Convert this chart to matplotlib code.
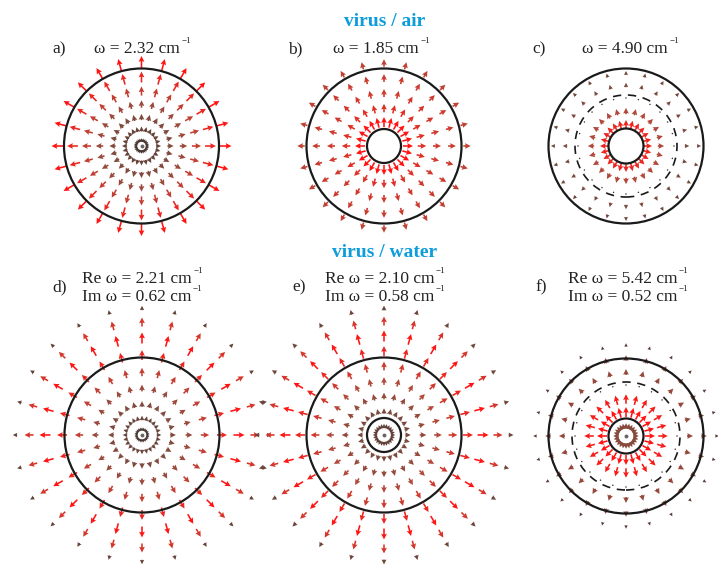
import numpy as np
import matplotlib.pyplot as plt
from matplotlib.patches import Circle
from matplotlib.colors import LinearSegmentedColormap, Normalize

plt.rcParams['font.family'] = ['Liberation Serif', 'DejaVu Serif']

W, H = 718, 565
fig = plt.figure(figsize=(W / 100, H / 100), dpi=100)

# 24 arrow directions, radial grid (radius units: outer circle = 77.5)
angles = np.deg2rad(np.arange(0, 360, 15))
R_OUT = 77.5

# ring radii and field magnitude (0..1) per panel
rings_a = [6, 17, 29, 42, 55, 69, 84]
mags_a = [0.3, 0.42, 0.52, 0.62, 0.76, 0.9, 1.0]
rings_b = [24, 38, 53, 68, 83]
mags_b = [1.0, 0.85, 0.8, 0.78, 0.75]
rings_c = [22, 35, 48, 61, 73]
mags_c = [0.9, 0.7, 0.12, 0.5, 0.45]
rings_d = [6, 17, 31, 47, 63, 80, 97, 113, 127]
mags_d = [0.3, 0.42, 0.52, 0.62, 0.76, 0.9, 1.0, 0.82, 0.4]
rings_e = [9, 24, 39, 54, 69, 84, 99, 114, 127]
mags_e = [0.4, 0.5, 0.6, 0.7, 0.8, 0.9, 1.0, 0.82, 0.45]
rings_f = [10, 24, 37, 51, 64, 78, 91]
mags_f = [0.55, 1.0, 0.95, 0.12, 0.6, 0.55, 0.35]

inner_r = {'b': 17, 'c': 17.5, 'e': 17, 'f': 17.5}
node_r = {'c': 51, 'f': 54}

labels = ['a)', 'b)', 'c)', 'd)', 'e)', 'f)']
omega_lines = [
    ['ω = 2.32 cm'],
    ['ω = 1.85 cm'],
    ['ω = 4.90 cm'],
    ['Re ω = 2.21 cm', 'Im ω = 0.62 cm'],
    ['Re ω = 2.10 cm', 'Im ω = 0.58 cm'],
    ['Re ω = 5.42 cm', 'Im ω = 0.52 cm'],
]

cmap = LinearSegmentedColormap.from_list(
    'field', [(0, '#2a2a2a'), (0.3, '#4a3832'), (0.5, '#7a4a3e'),
              (0.7, '#b0483a'), (0.85, '#e03026'), (1.0, '#ff1414')])


def draw_panel(key, cx, cy, rings, mags, lmax, dot=True):
    half = 150
    ax = fig.add_axes([(cx - half) / W, 1 - (cy + half) / H, 2 * half / W, 2 * half / H])
    ax.set_xlim(-half, half)
    ax.set_ylim(-half, half)
    ax.set_aspect('equal')
    ax.set_facecolor('none')
    ax.axis('off')

    rr, tt = np.meshgrid(rings, angles)
    mm, _ = np.meshgrid(mags, angles)
    X, Y = rr * np.cos(tt), rr * np.sin(tt)
    U, V = mm * lmax * np.cos(tt), mm * lmax * np.sin(tt)
    ax.quiver(X, Y, U, V, mm, cmap=cmap, norm=Normalize(0, 1),
              angles='xy', scale_units='xy', scale=1, pivot='mid',
              units='dots', width=1.6, headwidth=3.6, headlength=3.6,
              headaxislength=3.2, zorder=2)

    ax.add_patch(Circle((0, 0), R_OUT, fill=False, lw=1.6, ec='#1a1a1a', zorder=3))
    if key in inner_r:
        ax.add_patch(Circle((0, 0), inner_r[key], fill=False, lw=1.6,
                            ec='#1a1a1a', zorder=3))
    if key in node_r:
        ax.add_patch(Circle((0, 0), node_r[key], fill=False, lw=1.2,
                            ec='#1a1a1a', ls=(0, (5, 4)), zorder=3))
    if dot:
        ax.plot([0], [0], 'o', ms=1.8, color='#666666', zorder=4)


draw_panel('a', 141.5, 146, rings_a, mags_a, 12)
draw_panel('b', 384, 146, rings_b, mags_b, 10, dot=False)
draw_panel('c', 626, 146, rings_c, mags_c, 9, dot=False)
draw_panel('d', 142, 435, rings_d, mags_d, 11)
draw_panel('e', 384, 435, rings_e, mags_e, 11)
draw_panel('f', 626, 436, rings_f, mags_f, 10)

# panel letters and frequency labels (pixel positions)
renderer = fig.canvas.get_renderer()
letter_xy = [(52, 53), (288, 53), (532, 53), (52, 291), (292, 291), (535, 291)]
text_xy = [(94, 53), (333, 53), (582, 53), (82, 283), (325, 283), (568, 283)]
for lab, (lx, ly), lines, (tx, ty) in zip(labels, letter_xy, omega_lines, text_xy):
    fig.text(lx / W, 1 - ly / H, lab, fontsize=12.5, color='#222222',
             ha='left', va='baseline')
    for i, line in enumerate(lines):
        yb = ty + 18 * i
        t = fig.text(tx / W, 1 - yb / H, line, fontsize=12.5,
                     color='#222222', ha='left', va='baseline')
        bb = t.get_window_extent(renderer)
        fig.text((bb.x1 + 1.5) / W, 1 - (yb - 10) / H, '−1', fontsize=6.5,
                 color='#222222', ha='left', va='baseline')

fig.text(385 / W, 1 - 26 / H, 'virus / air', fontsize=14, fontweight='bold',
         color='#0d9ddb', ha='center', va='baseline')
fig.text(385 / W, 1 - 257 / H, 'virus / water', fontsize=14, fontweight='bold',
         color='#0d9ddb', ha='center', va='baseline')

fig.savefig('out.png', dpi=100)
